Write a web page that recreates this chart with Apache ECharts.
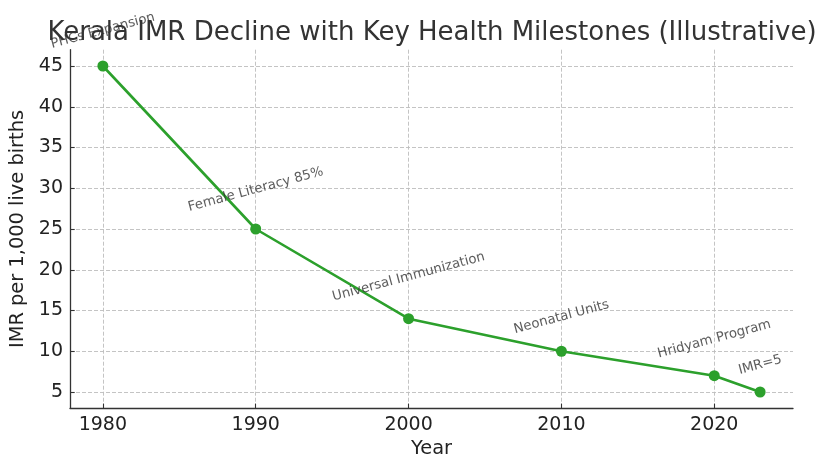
<!DOCTYPE html>
<html><head><meta charset="utf-8">
<script src="https://cdn.jsdelivr.net/npm/echarts@6/dist/echarts.min.js"></script>
<style>html,body{margin:0;padding:0;background:#fff}#c{width:829px;height:473px}</style>
</head><body><div id="c"></div>
<script>
const years = [1980, 1990, 2000, 2010, 2020, 2023];
const imr = [45, 25, 14, 10, 7, 5];
const milestones = ['PHCs Expansion', 'Female Literacy 85%', 'Universal Immunization', 'Neonatal Units', 'Hridyam Program', 'IMR=5'];
const xTicks = [1980, 1990, 2000, 2010, 2020];
const yTicks = [5, 10, 15, 20, 25, 30, 35, 40, 45];

const FONT = 'DejaVu Sans';
const annSize = 13.3;
const ctx = document.createElement('canvas').getContext('2d');
ctx.font = annSize + 'px "' + FONT + '"';
const rad = 15 * Math.PI / 180;

const chart = echarts.init(document.getElementById('c'), null, {renderer: 'canvas'});
const lineData = years.map((y, i) => [y, imr[i]]);
const annData = years.map((y, i) => {
  const w = ctx.measureText(milestones[i]).width;
  const D = 15 + (annSize * Math.cos(rad) + w * Math.sin(rad)) / 2;
  return {
    value: [y, imr[i]],
    label: {offset: [D * Math.sin(rad), -D * Math.cos(rad)]},
    name: milestones[i]
  };
});
const xmin = 1980 - (2023 - 1980) * 0.05, xmax = 2023 + (2023 - 1980) * 0.05;
const ymin = 5 - 40 * 0.05, ymax = 45 + 40 * 0.05;

chart.setOption({
  animation: false,
  backgroundColor: '#fff',
  title: {
    text: 'Kerala IMR Decline with Key Health Milestones (Illustrative)',
    left: 427, textAlign: 'center', top: 15,
    textStyle: {fontFamily: FONT, fontSize: 26, fontWeight: 'normal', color: '#333'}
  },
  grid: {left: 70, right: 36, top: 49.7, bottom: 64.7, containLabel: false},
  xAxis: {
    type: 'value', min: xmin, max: xmax,
    name: 'Year', nameLocation: 'middle', nameGap: 30,
    nameTextStyle: {fontFamily: FONT, fontSize: 19.4, color: '#222'},
    axisLine: {show: true, onZero: false, lineStyle: {color: '#333', width: 1.3}},
    axisTick: {show: true, inside: true, length: 4.7, customValues: xTicks, lineStyle: {color: '#333', width: 1.1}},
    axisLabel: {customValues: xTicks, fontFamily: FONT, fontSize: 19, color: '#222', margin: 7,
      formatter: v => String(v)},
    splitLine: {show: true, lineStyle: {color: '#bdbdbd', type: [4, 2], width: 0.9}}
  },
  yAxis: {
    type: 'value', min: ymin, max: ymax,
    name: 'IMR per 1,000 live births', nameLocation: 'middle', nameGap: 32,
    nameTextStyle: {fontFamily: FONT, fontSize: 19.4, color: '#222'},
    axisLine: {show: true, onZero: false, lineStyle: {color: '#333', width: 1.3}},
    axisTick: {show: true, inside: true, length: 4.7, customValues: yTicks, lineStyle: {color: '#333', width: 1.1}},
    axisLabel: {customValues: yTicks, fontFamily: FONT, fontSize: 19, color: '#222', margin: 7,
      formatter: v => String(v)},
    splitLine: {show: true, lineStyle: {color: '#bdbdbd', type: [4, 2], width: 0.9}}
  },
  series: [
    {
      type: 'line', data: lineData, symbol: 'circle', symbolSize: 11,
      lineStyle: {color: '#2ca02c', width: 2.6},
      itemStyle: {color: '#2ca02c'}, z: 3
    },
    {
      type: 'scatter', data: annData, symbolSize: 0, silent: true, z: 4,
      label: {
        show: true, position: 'inside', formatter: p => p.name,
        rotate: 15, align: 'center', verticalAlign: 'middle',
        fontFamily: FONT, fontSize: annSize, color: '#333'
      }
    }
  ]
});
</script></body></html>
